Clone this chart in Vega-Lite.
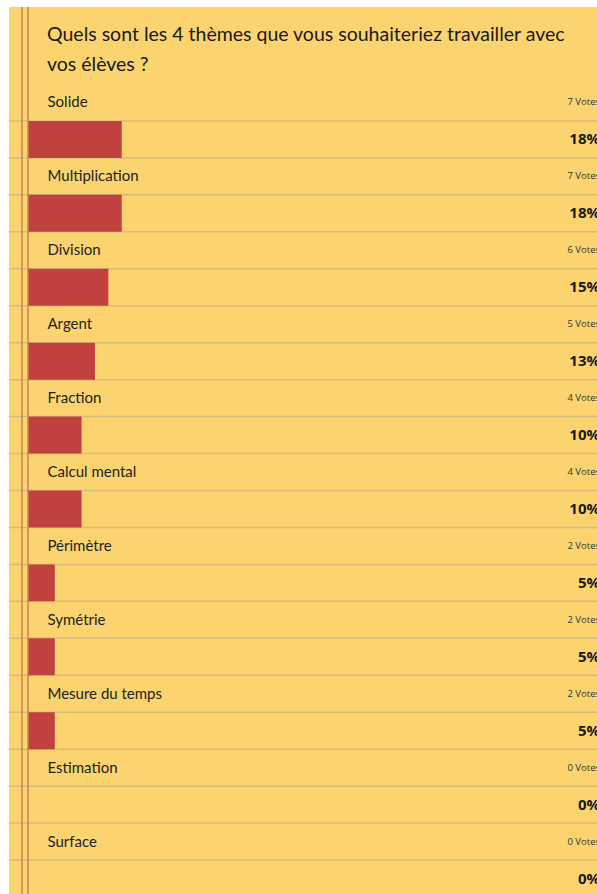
{
  "$schema": "https://vega.github.io/schema/vega-lite/v6.json",
  "width": 588,
  "height": 887,
  "padding": {"left": 9, "top": 7, "right": 0, "bottom": 0},
  "autosize": {"type": "none"},
  "background": "#ffffff",
  "config": {
    "view": {"fill": "#fbd470", "stroke": null},
    "font": "Lato",
    "axisY": {
      "labelOffset": -18.5,
      "labelAlign": "left",
      "labelPadding": -38,
      "labelBaseline": "middle",
      "ticks": false,
      "domain": false,
      "grid": false,
      "labelFont": "Lato",
      "labelFontSize": 15,
      "labelColor": "#222222"
    }
  },
  "title": {
    "text": ["Quels sont les 4 thèmes que vous souhaiteriez travailler avec", "vos élèves ?"],
    "orient": "top",
    "anchor": "start",
    "frame": "group",
    "offset": -38,
    "dx": 38,
    "dy": 46,
    "baseline": "alphabetic",
    "fontSize": 19.5,
    "fontWeight": "normal",
    "lineHeight": 30,
    "color": "#1a1a1a",
    "font": "Lato"
  },
  "data": {
    "values": [
      {"item": "Solide", "votes": 7, "votes_label": "7 Votes", "pct": "18%"},
      {"item": "Multiplication", "votes": 7, "votes_label": "7 Votes", "pct": "18%"},
      {"item": "Division", "votes": 6, "votes_label": "6 Votes", "pct": "15%"},
      {"item": "Argent", "votes": 5, "votes_label": "5 Votes", "pct": "13%"},
      {"item": "Fraction", "votes": 4, "votes_label": "4 Votes", "pct": "10%"},
      {"item": "Calcul mental", "votes": 4, "votes_label": "4 Votes", "pct": "10%"},
      {"item": "Périmètre", "votes": 2, "votes_label": "2 Votes", "pct": "5%"},
      {"item": "Symétrie", "votes": 2, "votes_label": "2 Votes", "pct": "5%"},
      {"item": "Mesure du temps", "votes": 2, "votes_label": "2 Votes", "pct": "5%"},
      {"item": "Estimation", "votes": 0, "votes_label": "0 Votes", "pct": "0%"},
      {"item": "Surface", "votes": 0, "votes_label": "0 Votes", "pct": "0%"}
    ]
  },
  "layer": [
    {
      "mark": {"type": "rule", "color": "#d3bc7c", "strokeWidth": 1.5},
      "encoding": {
        "y": {
          "field": "item", "type": "nominal", "sort": null, "bandPosition": 0.5, "title": null,
          "scale": {"type": "band", "range": [77, 890], "paddingInner": 0, "paddingOuter": 0}
        }
      }
    },
    {
      "transform": [{"filter": "datum.item != 'Solide'"}],
      "mark": {"type": "rule", "color": "#d3bc7c", "strokeWidth": 1.5},
      "encoding": {
        "y": {"field": "item", "type": "nominal", "sort": null, "bandPosition": 0, "title": null}
      }
    },
    {
      "mark": {"type": "rect", "color": "#c0413d"},
      "encoding": {
        "y": {"field": "item", "type": "nominal", "sort": null, "bandPosition": 0.5, "title": null},
        "y2": {"field": "item", "bandPosition": 1},
        "x": {"field": "votes", "type": "quantitative", "axis": null,
              "scale": {"domain": [0, 42.5], "range": [19, 588], "zero": true, "nice": false}},
        "x2": {"datum": 0}
      }
    },
    {
      "data": {"values": [{}]},
      "mark": {"type": "rule", "color": "#c9824f", "strokeWidth": 1.5},
      "encoding": {"x": {"datum": 0, "type": "quantitative"}}
    },
    {
      "data": {"values": [{}]},
      "mark": {"type": "rule", "color": "#c9824f", "strokeWidth": 1.5},
      "encoding": {"x": {"datum": -0.45, "type": "quantitative"}}
    },
    {
      "mark": {"type": "text", "align": "right", "baseline": "middle", "dx": 3, "fontSize": 9.5, "color": "#333333", "font": "Open Sans"},
      "encoding": {
        "y": {"field": "item", "type": "nominal", "sort": null, "bandPosition": 0.25, "title": null},
        "x": {"value": "width"},
        "text": {"field": "votes_label"}
      }
    },
    {
      "mark": {"type": "text", "align": "right", "baseline": "middle", "dx": 3, "fontSize": 15, "fontWeight": "bold", "color": "#1a1a1a", "font": "Open Sans"},
      "encoding": {
        "y": {"field": "item", "type": "nominal", "sort": null, "bandPosition": 0.75, "title": null},
        "x": {"value": "width"},
        "text": {"field": "pct"}
      }
    }
  ]
}
